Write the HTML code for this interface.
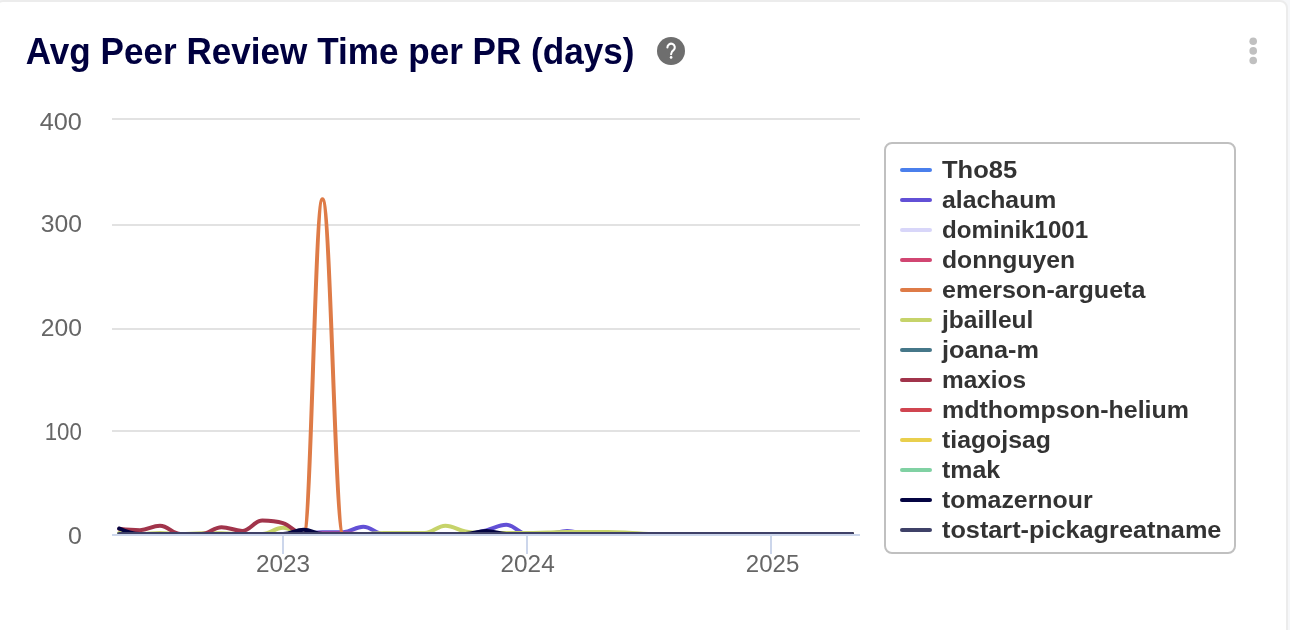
<!DOCTYPE html>
<html><head><meta charset="utf-8">
<style>
html,body{margin:0;padding:0;width:1290px;height:630px;overflow:hidden;background:#f6f7f9;}
body{position:relative;font-family:"Liberation Sans",sans-serif;}
.card{position:absolute;left:-5px;top:0;width:1293px;height:700px;box-sizing:border-box;border:2px solid #ececec;border-radius:8px;background:#fff;}
svg{position:absolute;left:0;top:0;will-change:transform;}
</style></head><body>
<div class="card"></div>
<svg width="1290" height="630" viewBox="0 0 1290 630">
<defs><clipPath id="plot"><rect x="112" y="100" width="748" height="434"/></clipPath></defs>
<text x="25.8" y="64" font-family="Liberation Sans" font-weight="bold" font-size="36" fill="#00003f" textLength="608.7" lengthAdjust="spacingAndGlyphs">Avg Peer Review Time per PR (days)</text>
<circle cx="671" cy="51" r="14" fill="#6e6e6e"/>
<path d="M667.4 47.4 A3.7 3.7 0 1 1 673.5 50.2 Q671.1 51.8 671.1 54.2" fill="none" stroke="#fff" stroke-width="2.1" stroke-linecap="round"/><circle cx="671.1" cy="57.4" r="1.35" fill="#fff"/>
<circle cx="1253.2" cy="41.3" r="3.8" fill="#c0c0c0"/>
<circle cx="1253.2" cy="50.9" r="3.8" fill="#c0c0c0"/>
<circle cx="1253.2" cy="60.5" r="3.8" fill="#c0c0c0"/>
<g><rect x="112" y="118" width="748" height="2" fill="#e2e2e2"/>
<rect x="112" y="224" width="748" height="2" fill="#e2e2e2"/>
<rect x="112" y="328" width="748" height="2" fill="#e2e2e2"/>
<rect x="112" y="430" width="748" height="2" fill="#e2e2e2"/></g>
<rect x="112" y="534" width="748" height="2" fill="#ccd6eb"/>
<rect x="282" y="536" width="2" height="18" fill="#ccd6eb"/>
<rect x="526" y="536" width="2" height="18" fill="#ccd6eb"/>
<rect x="770" y="536" width="2" height="18" fill="#ccd6eb"/>
<g font-family="Liberation Sans" font-size="23.4" fill="#666666">
<text x="39.7" y="130" textLength="42.2" lengthAdjust="spacingAndGlyphs">400</text>
<text x="40.7" y="232" textLength="41.2" lengthAdjust="spacingAndGlyphs">300</text>
<text x="40.7" y="336" textLength="41.2" lengthAdjust="spacingAndGlyphs">200</text>
<text x="44.7" y="440" textLength="37.2" lengthAdjust="spacingAndGlyphs">100</text>
<text x="68.0" y="544" textLength="13.9" lengthAdjust="spacingAndGlyphs">0</text>
<text x="255.9" y="572" textLength="54.2" lengthAdjust="spacingAndGlyphs">2023</text>
<text x="500.5" y="572" textLength="54.2" lengthAdjust="spacingAndGlyphs">2024</text>
<text x="745.8" y="572" textLength="53.5" lengthAdjust="spacingAndGlyphs">2025</text>
</g>
<g clip-path="url(#plot)" fill="none" stroke-width="4" stroke-linecap="round" stroke-linejoin="round">
<path d="M119.22 534.00 C119.22 534.00 131.65 534.00 139.94 534.00 C147.96 534.00 151.98 534.00 160.00 534.00 C168.29 534.00 172.43 534.00 180.72 534.00 C189.01 534.00 193.15 534.00 201.44 534.00 C209.47 534.00 213.48 534.00 221.50 534.00 C229.79 534.00 233.93 534.00 242.22 534.00 C250.24 534.00 254.25 534.00 262.28 534.00 C270.57 534.00 274.71 534.00 283.00 534.00 C291.29 534.00 295.43 534.00 303.72 534.00 C311.21 534.00 314.95 534.00 322.44 534.00 C330.73 534.00 334.88 534.00 343.16 534.00 C351.19 534.00 355.20 534.00 363.22 534.00 C371.51 534.00 375.65 534.00 383.94 534.00 C391.96 534.00 395.98 534.00 404.00 534.00 C412.29 534.00 416.43 534.00 424.72 534.00 C433.01 534.00 437.15 534.00 445.44 534.00 C453.47 534.00 457.48 534.00 465.50 534.00 C473.79 534.00 477.93 534.00 486.22 534.00 C494.24 534.00 498.25 534.00 506.28 534.00 C514.57 534.00 518.71 534.00 527.00 534.00 C535.29 534.00 539.43 534.00 547.72 534.00 C555.48 534.00 559.36 534.00 567.11 534.00 C575.40 534.00 579.54 534.00 587.83 534.00 C595.85 534.00 599.87 534.00 607.89 534.00 C616.18 534.00 620.32 534.00 628.61 534.00 C636.63 534.00 640.64 534.00 648.67 534.00 C656.96 534.00 661.10 534.00 669.39 534.00 C677.68 534.00 681.82 534.00 690.11 534.00 C698.13 534.00 702.15 534.00 710.17 534.00 C718.46 534.00 722.60 534.00 730.89 534.00 C738.91 534.00 742.92 534.00 750.95 534.00 C759.23 534.00 763.38 534.00 771.67 534.00 C779.96 534.00 784.10 534.00 792.39 534.00 C799.88 534.00 803.62 534.00 811.11 534.00 C819.40 534.00 823.54 534.00 831.83 534.00 C839.85 534.00 851.89 534.00 851.89 534.00" stroke="#4a7fec"/>
<path d="M119.22 534.00 C119.22 534.00 131.65 534.00 139.94 534.00 C147.96 534.00 151.98 534.00 160.00 534.00 C168.29 534.00 172.43 534.00 180.72 534.00 C189.01 534.00 193.15 534.00 201.44 534.00 C209.47 534.00 213.48 534.00 221.50 534.00 C229.79 534.00 233.93 534.00 242.22 534.00 C250.24 534.00 254.25 534.00 262.28 534.00 C270.57 534.00 274.71 534.00 283.00 534.00 C291.29 534.00 295.43 534.00 303.72 534.00 C311.21 534.00 314.95 532.13 322.44 532.13 C330.73 532.13 334.88 532.13 343.16 532.13 C351.19 532.13 355.20 526.74 363.22 526.74 C371.51 526.74 375.65 534.00 383.94 534.00 C391.96 534.00 395.98 534.00 404.00 534.00 C412.29 534.00 416.43 534.00 424.72 534.00 C433.01 534.00 437.15 534.00 445.44 534.00 C453.47 534.00 457.48 534.00 465.50 534.00 C473.79 534.00 477.93 532.22 486.22 530.37 C494.24 528.57 498.25 524.87 506.28 524.87 C514.57 524.87 518.71 534.00 527.00 534.00 C535.29 534.00 539.43 534.00 547.72 534.00 C555.48 534.00 559.36 530.89 567.11 530.89 C575.40 530.89 579.54 534.00 587.83 534.00 C595.85 534.00 599.87 534.00 607.89 534.00 C616.18 534.00 620.32 534.00 628.61 534.00 C636.63 534.00 640.64 534.00 648.67 534.00 C656.96 534.00 661.10 534.00 669.39 534.00 C677.68 534.00 681.82 534.00 690.11 534.00 C698.13 534.00 702.15 534.00 710.17 534.00 C718.46 534.00 722.60 534.00 730.89 534.00 C738.91 534.00 742.92 534.00 750.95 534.00 C759.23 534.00 763.38 534.00 771.67 534.00 C779.96 534.00 784.10 534.00 792.39 534.00 C799.88 534.00 803.62 534.00 811.11 534.00 C819.40 534.00 823.54 534.00 831.83 534.00 C839.85 534.00 851.89 534.00 851.89 534.00" stroke="#6250d6"/>
<path d="M119.22 534.00 C119.22 534.00 131.65 534.00 139.94 534.00 C147.96 534.00 151.98 534.00 160.00 534.00 C168.29 534.00 172.43 534.00 180.72 534.00 C189.01 534.00 193.15 534.00 201.44 534.00 C209.47 534.00 213.48 534.00 221.50 534.00 C229.79 534.00 233.93 534.00 242.22 534.00 C250.24 534.00 254.25 534.00 262.28 534.00 C270.57 534.00 274.71 534.00 283.00 534.00 C291.29 534.00 295.43 534.00 303.72 534.00 C311.21 534.00 314.95 534.00 322.44 534.00 C330.73 534.00 334.88 534.00 343.16 534.00 C351.19 534.00 355.20 534.00 363.22 534.00 C371.51 534.00 375.65 534.00 383.94 534.00 C391.96 534.00 395.98 534.00 404.00 534.00 C412.29 534.00 416.43 534.00 424.72 534.00 C433.01 534.00 437.15 534.00 445.44 534.00 C453.47 534.00 457.48 534.00 465.50 534.00 C473.79 534.00 477.93 534.00 486.22 534.00 C494.24 534.00 498.25 534.00 506.28 534.00 C514.57 534.00 518.71 534.00 527.00 534.00 C535.29 534.00 539.43 534.00 547.72 534.00 C555.48 534.00 559.36 534.00 567.11 534.00 C575.40 534.00 579.54 534.00 587.83 534.00 C595.85 534.00 599.87 534.00 607.89 534.00 C616.18 534.00 620.32 534.00 628.61 534.00 C636.63 534.00 640.64 534.00 648.67 534.00 C656.96 534.00 661.10 534.00 669.39 534.00 C677.68 534.00 681.82 534.00 690.11 534.00 C698.13 534.00 702.15 534.00 710.17 534.00 C718.46 534.00 722.60 534.00 730.89 534.00 C738.91 534.00 742.92 534.00 750.95 534.00 C759.23 534.00 763.38 534.00 771.67 534.00 C779.96 534.00 784.10 534.00 792.39 534.00 C799.88 534.00 803.62 534.00 811.11 534.00 C819.40 534.00 823.54 534.00 831.83 534.00 C839.85 534.00 851.89 534.00 851.89 534.00" stroke="#d8d6f9"/>
<path d="M119.22 534.00 C119.22 534.00 131.65 534.00 139.94 534.00 C147.96 534.00 151.98 534.00 160.00 534.00 C168.29 534.00 172.43 534.00 180.72 534.00 C189.01 534.00 193.15 534.00 201.44 534.00 C209.47 534.00 213.48 534.00 221.50 534.00 C229.79 534.00 233.93 534.00 242.22 534.00 C250.24 534.00 254.25 534.00 262.28 534.00 C270.57 534.00 274.71 534.00 283.00 534.00 C291.29 534.00 295.43 534.00 303.72 534.00 C311.21 534.00 314.95 533.38 322.44 533.38 C330.73 533.38 334.88 533.38 343.16 533.38 C351.19 533.38 355.20 534.00 363.22 534.00 C371.51 534.00 375.65 534.00 383.94 534.00 C391.96 534.00 395.98 534.00 404.00 534.00 C412.29 534.00 416.43 534.00 424.72 534.00 C433.01 534.00 437.15 534.00 445.44 534.00 C453.47 534.00 457.48 534.00 465.50 534.00 C473.79 534.00 477.93 534.00 486.22 534.00 C494.24 534.00 498.25 534.00 506.28 534.00 C514.57 534.00 518.71 534.00 527.00 534.00 C535.29 534.00 539.43 534.00 547.72 534.00 C555.48 534.00 559.36 534.00 567.11 534.00 C575.40 534.00 579.54 534.00 587.83 534.00 C595.85 534.00 599.87 534.00 607.89 534.00 C616.18 534.00 620.32 534.00 628.61 534.00 C636.63 534.00 640.64 534.00 648.67 534.00 C656.96 534.00 661.10 534.00 669.39 534.00 C677.68 534.00 681.82 534.00 690.11 534.00 C698.13 534.00 702.15 534.00 710.17 534.00 C718.46 534.00 722.60 534.00 730.89 534.00 C738.91 534.00 742.92 534.00 750.95 534.00 C759.23 534.00 763.38 534.00 771.67 534.00 C779.96 534.00 784.10 534.00 792.39 534.00 C799.88 534.00 803.62 534.00 811.11 534.00 C819.40 534.00 823.54 534.00 831.83 534.00 C839.85 534.00 851.89 534.00 851.89 534.00" stroke="#d14672"/>
<path d="M119.22 534.00 C119.22 534.00 131.65 534.00 139.94 534.00 C147.96 534.00 151.98 534.00 160.00 534.00 C168.29 534.00 172.43 534.00 180.72 534.00 C189.01 534.00 193.15 534.00 201.44 534.00 C209.47 534.00 213.48 534.00 221.50 534.00 C229.79 534.00 233.93 534.00 242.22 534.00 C250.24 534.00 254.25 534.00 262.28 534.00 C270.57 534.00 274.71 534.00 283.00 534.00 C291.29 534.00 295.43 534.00 303.72 534.00 C311.21 534.00 314.95 199.30 322.44 199.30 C330.73 199.30 334.88 534.00 343.16 534.00 C351.19 534.00 355.20 534.00 363.22 534.00 C371.51 534.00 375.65 534.00 383.94 534.00 C391.96 534.00 395.98 534.00 404.00 534.00 C412.29 534.00 416.43 534.00 424.72 534.00 C433.01 534.00 437.15 534.00 445.44 534.00 C453.47 534.00 457.48 534.00 465.50 534.00 C473.79 534.00 477.93 534.00 486.22 534.00 C494.24 534.00 498.25 534.00 506.28 534.00 C514.57 534.00 518.71 534.00 527.00 534.00 C535.29 534.00 539.43 534.00 547.72 534.00 C555.48 534.00 559.36 534.00 567.11 534.00 C575.40 534.00 579.54 534.00 587.83 534.00 C595.85 534.00 599.87 534.00 607.89 534.00 C616.18 534.00 620.32 534.00 628.61 534.00 C636.63 534.00 640.64 534.00 648.67 534.00 C656.96 534.00 661.10 534.00 669.39 534.00 C677.68 534.00 681.82 534.00 690.11 534.00 C698.13 534.00 702.15 534.00 710.17 534.00 C718.46 534.00 722.60 534.00 730.89 534.00 C738.91 534.00 742.92 534.00 750.95 534.00 C759.23 534.00 763.38 534.00 771.67 534.00 C779.96 534.00 784.10 534.00 792.39 534.00 C799.88 534.00 803.62 534.00 811.11 534.00 C819.40 534.00 823.54 534.00 831.83 534.00 C839.85 534.00 851.89 534.00 851.89 534.00" stroke="#de7b47"/>
<path d="M119.22 532.96 C119.22 532.96 131.65 534.00 139.94 534.00 C147.96 534.00 151.98 532.96 160.00 532.96 C168.29 532.96 172.43 534.00 180.72 534.00 C189.01 534.00 193.15 533.27 201.44 533.27 C209.47 533.27 213.48 533.27 221.50 533.27 C229.79 533.27 233.93 534.00 242.22 534.00 C250.24 534.00 254.25 534.00 262.28 534.00 C270.57 534.00 274.71 527.77 283.00 527.77 C291.29 527.77 295.43 534.00 303.72 534.00 C311.21 534.00 314.95 534.00 322.44 534.00 C330.73 534.00 334.88 534.00 343.16 534.00 C351.19 534.00 355.20 534.00 363.22 534.00 C371.51 534.00 375.65 532.96 383.94 532.96 C391.96 532.96 395.98 532.96 404.00 532.96 C412.29 532.96 416.43 532.96 424.72 532.96 C433.01 532.96 437.15 525.70 445.44 525.70 C453.47 525.70 457.48 529.98 465.50 531.41 C473.79 532.88 477.93 532.96 486.22 532.96 C494.24 532.96 498.25 532.96 506.28 532.96 C514.57 532.96 518.71 532.96 527.00 532.96 C535.29 532.96 539.43 532.66 547.72 532.44 C555.48 532.24 559.36 531.92 567.11 531.92 C575.40 531.92 579.54 531.92 587.83 531.92 C595.85 531.92 599.87 531.92 607.89 531.92 C616.18 531.92 620.32 532.23 628.61 532.65 C636.63 533.06 640.64 534.00 648.67 534.00 C656.96 534.00 661.10 534.00 669.39 534.00 C677.68 534.00 681.82 534.00 690.11 534.00 C698.13 534.00 702.15 534.00 710.17 534.00 C718.46 534.00 722.60 534.00 730.89 534.00 C738.91 534.00 742.92 534.00 750.95 534.00 C759.23 534.00 763.38 534.00 771.67 534.00 C779.96 534.00 784.10 534.00 792.39 534.00 C799.88 534.00 803.62 534.00 811.11 534.00 C819.40 534.00 823.54 534.00 831.83 534.00 C839.85 534.00 851.89 534.00 851.89 534.00" stroke="#c6d36a"/>
<path d="M119.22 534.00 C119.22 534.00 131.65 534.00 139.94 534.00 C147.96 534.00 151.98 534.00 160.00 534.00 C168.29 534.00 172.43 534.00 180.72 534.00 C189.01 534.00 193.15 534.00 201.44 534.00 C209.47 534.00 213.48 534.00 221.50 534.00 C229.79 534.00 233.93 534.00 242.22 534.00 C250.24 534.00 254.25 534.00 262.28 534.00 C270.57 534.00 274.71 534.00 283.00 534.00 C291.29 534.00 295.43 534.00 303.72 534.00 C311.21 534.00 314.95 534.00 322.44 534.00 C330.73 534.00 334.88 534.00 343.16 534.00 C351.19 534.00 355.20 534.00 363.22 534.00 C371.51 534.00 375.65 534.00 383.94 534.00 C391.96 534.00 395.98 534.00 404.00 534.00 C412.29 534.00 416.43 534.00 424.72 534.00 C433.01 534.00 437.15 534.00 445.44 534.00 C453.47 534.00 457.48 534.00 465.50 534.00 C473.79 534.00 477.93 534.00 486.22 534.00 C494.24 534.00 498.25 534.00 506.28 534.00 C514.57 534.00 518.71 534.00 527.00 534.00 C535.29 534.00 539.43 534.00 547.72 534.00 C555.48 534.00 559.36 534.00 567.11 534.00 C575.40 534.00 579.54 534.00 587.83 534.00 C595.85 534.00 599.87 534.00 607.89 534.00 C616.18 534.00 620.32 534.00 628.61 534.00 C636.63 534.00 640.64 534.00 648.67 534.00 C656.96 534.00 661.10 534.00 669.39 534.00 C677.68 534.00 681.82 534.00 690.11 534.00 C698.13 534.00 702.15 534.00 710.17 534.00 C718.46 534.00 722.60 534.00 730.89 534.00 C738.91 534.00 742.92 534.00 750.95 534.00 C759.23 534.00 763.38 534.00 771.67 534.00 C779.96 534.00 784.10 534.00 792.39 534.00 C799.88 534.00 803.62 534.00 811.11 534.00 C819.40 534.00 823.54 534.00 831.83 534.00 C839.85 534.00 851.89 534.00 851.89 534.00" stroke="#467789"/>
<path d="M119.22 528.81 C119.22 528.81 131.65 530.26 139.94 530.26 C147.96 530.26 151.98 525.70 160.00 525.70 C168.29 525.70 172.43 534.00 180.72 534.00 C189.01 534.00 193.15 534.00 201.44 534.00 C209.47 534.00 213.48 527.15 221.50 527.15 C229.79 527.15 233.93 530.89 242.22 530.89 C250.24 530.89 254.25 520.51 262.28 520.51 C270.57 520.51 274.71 520.51 283.00 523.11 C291.29 525.70 295.43 534.00 303.72 534.00 C311.21 534.00 314.95 534.00 322.44 534.00 C330.73 534.00 334.88 534.00 343.16 534.00 C351.19 534.00 355.20 534.00 363.22 534.00 C371.51 534.00 375.65 534.00 383.94 534.00 C391.96 534.00 395.98 534.00 404.00 534.00 C412.29 534.00 416.43 534.00 424.72 534.00 C433.01 534.00 437.15 534.00 445.44 534.00 C453.47 534.00 457.48 534.00 465.50 534.00 C473.79 534.00 477.93 534.00 486.22 534.00 C494.24 534.00 498.25 534.00 506.28 534.00 C514.57 534.00 518.71 534.00 527.00 534.00 C535.29 534.00 539.43 534.00 547.72 534.00 C555.48 534.00 559.36 534.00 567.11 534.00 C575.40 534.00 579.54 534.00 587.83 534.00 C595.85 534.00 599.87 534.00 607.89 534.00 C616.18 534.00 620.32 534.00 628.61 534.00 C636.63 534.00 640.64 534.00 648.67 534.00 C656.96 534.00 661.10 534.00 669.39 534.00 C677.68 534.00 681.82 534.00 690.11 534.00 C698.13 534.00 702.15 534.00 710.17 534.00 C718.46 534.00 722.60 534.00 730.89 534.00 C738.91 534.00 742.92 534.00 750.95 534.00 C759.23 534.00 763.38 534.00 771.67 534.00 C779.96 534.00 784.10 534.00 792.39 534.00 C799.88 534.00 803.62 534.00 811.11 534.00 C819.40 534.00 823.54 534.00 831.83 534.00 C839.85 534.00 851.89 534.00 851.89 534.00" stroke="#a1344b"/>
<path d="M119.22 534.00 C119.22 534.00 131.65 534.00 139.94 534.00 C147.96 534.00 151.98 534.00 160.00 534.00 C168.29 534.00 172.43 534.00 180.72 534.00 C189.01 534.00 193.15 534.00 201.44 534.00 C209.47 534.00 213.48 534.00 221.50 534.00 C229.79 534.00 233.93 534.00 242.22 534.00 C250.24 534.00 254.25 534.00 262.28 534.00 C270.57 534.00 274.71 534.00 283.00 534.00 C291.29 534.00 295.43 534.00 303.72 534.00 C311.21 534.00 314.95 534.00 322.44 534.00 C330.73 534.00 334.88 534.00 343.16 534.00 C351.19 534.00 355.20 534.00 363.22 534.00 C371.51 534.00 375.65 534.00 383.94 534.00 C391.96 534.00 395.98 534.00 404.00 534.00 C412.29 534.00 416.43 534.00 424.72 534.00 C433.01 534.00 437.15 534.00 445.44 534.00 C453.47 534.00 457.48 534.00 465.50 534.00 C473.79 534.00 477.93 534.00 486.22 534.00 C494.24 534.00 498.25 534.00 506.28 534.00 C514.57 534.00 518.71 534.00 527.00 534.00 C535.29 534.00 539.43 534.00 547.72 534.00 C555.48 534.00 559.36 534.00 567.11 534.00 C575.40 534.00 579.54 534.00 587.83 534.00 C595.85 534.00 599.87 534.00 607.89 534.00 C616.18 534.00 620.32 534.00 628.61 534.00 C636.63 534.00 640.64 534.00 648.67 534.00 C656.96 534.00 661.10 534.00 669.39 534.00 C677.68 534.00 681.82 534.00 690.11 534.00 C698.13 534.00 702.15 534.00 710.17 534.00 C718.46 534.00 722.60 534.00 730.89 534.00 C738.91 534.00 742.92 534.00 750.95 534.00 C759.23 534.00 763.38 534.00 771.67 534.00 C779.96 534.00 784.10 534.00 792.39 534.00 C799.88 534.00 803.62 534.00 811.11 534.00 C819.40 534.00 823.54 534.00 831.83 534.00 C839.85 534.00 851.89 534.00 851.89 534.00" stroke="#d04550"/>
<path d="M119.22 534.00 C119.22 534.00 131.65 534.00 139.94 534.00 C147.96 534.00 151.98 534.00 160.00 534.00 C168.29 534.00 172.43 534.00 180.72 534.00 C189.01 534.00 193.15 534.00 201.44 534.00 C209.47 534.00 213.48 534.00 221.50 534.00 C229.79 534.00 233.93 534.00 242.22 534.00 C250.24 534.00 254.25 534.00 262.28 534.00 C270.57 534.00 274.71 534.00 283.00 534.00 C291.29 534.00 295.43 534.00 303.72 534.00 C311.21 534.00 314.95 534.00 322.44 534.00 C330.73 534.00 334.88 534.00 343.16 534.00 C351.19 534.00 355.20 534.00 363.22 534.00 C371.51 534.00 375.65 534.00 383.94 534.00 C391.96 534.00 395.98 534.00 404.00 534.00 C412.29 534.00 416.43 534.00 424.72 534.00 C433.01 534.00 437.15 534.00 445.44 534.00 C453.47 534.00 457.48 534.00 465.50 534.00 C473.79 534.00 477.93 534.00 486.22 534.00 C494.24 534.00 498.25 534.00 506.28 534.00 C514.57 534.00 518.71 534.00 527.00 534.00 C535.29 534.00 539.43 534.00 547.72 534.00 C555.48 534.00 559.36 534.00 567.11 534.00 C575.40 534.00 579.54 534.00 587.83 534.00 C595.85 534.00 599.87 534.00 607.89 534.00 C616.18 534.00 620.32 534.00 628.61 534.00 C636.63 534.00 640.64 534.00 648.67 534.00 C656.96 534.00 661.10 534.00 669.39 534.00 C677.68 534.00 681.82 534.00 690.11 534.00 C698.13 534.00 702.15 534.00 710.17 534.00 C718.46 534.00 722.60 534.00 730.89 534.00 C738.91 534.00 742.92 534.00 750.95 534.00 C759.23 534.00 763.38 534.00 771.67 534.00 C779.96 534.00 784.10 534.00 792.39 534.00 C799.88 534.00 803.62 534.00 811.11 534.00 C819.40 534.00 823.54 534.00 831.83 534.00 C839.85 534.00 851.89 534.00 851.89 534.00" stroke="#e9cf4d"/>
<path d="M119.22 534.00 C119.22 534.00 131.65 534.00 139.94 534.00 C147.96 534.00 151.98 534.00 160.00 534.00 C168.29 534.00 172.43 534.00 180.72 534.00 C189.01 534.00 193.15 534.00 201.44 534.00 C209.47 534.00 213.48 534.00 221.50 534.00 C229.79 534.00 233.93 534.00 242.22 534.00 C250.24 534.00 254.25 534.00 262.28 534.00 C270.57 534.00 274.71 534.00 283.00 534.00 C291.29 534.00 295.43 534.00 303.72 534.00 C311.21 534.00 314.95 534.00 322.44 534.00 C330.73 534.00 334.88 534.00 343.16 534.00 C351.19 534.00 355.20 534.00 363.22 534.00 C371.51 534.00 375.65 534.00 383.94 534.00 C391.96 534.00 395.98 534.00 404.00 534.00 C412.29 534.00 416.43 534.00 424.72 534.00 C433.01 534.00 437.15 534.00 445.44 534.00 C453.47 534.00 457.48 534.00 465.50 534.00 C473.79 534.00 477.93 534.00 486.22 534.00 C494.24 534.00 498.25 534.00 506.28 534.00 C514.57 534.00 518.71 534.00 527.00 534.00 C535.29 534.00 539.43 534.00 547.72 534.00 C555.48 534.00 559.36 534.00 567.11 534.00 C575.40 534.00 579.54 534.00 587.83 534.00 C595.85 534.00 599.87 534.00 607.89 534.00 C616.18 534.00 620.32 534.00 628.61 534.00 C636.63 534.00 640.64 534.00 648.67 534.00 C656.96 534.00 661.10 534.00 669.39 534.00 C677.68 534.00 681.82 534.00 690.11 534.00 C698.13 534.00 702.15 534.00 710.17 534.00 C718.46 534.00 722.60 534.00 730.89 534.00 C738.91 534.00 742.92 534.00 750.95 534.00 C759.23 534.00 763.38 534.00 771.67 534.00 C779.96 534.00 784.10 534.00 792.39 534.00 C799.88 534.00 803.62 534.00 811.11 534.00 C819.40 534.00 823.54 534.00 831.83 534.00 C839.85 534.00 851.89 534.00 851.89 534.00" stroke="#80d1a3"/>
<path d="M119.22 528.50 C119.22 528.50 131.65 534.00 139.94 534.00 C147.96 534.00 151.98 534.00 160.00 534.00 C168.29 534.00 172.43 534.00 180.72 534.00 C189.01 534.00 193.15 534.00 201.44 534.00 C209.47 534.00 213.48 534.00 221.50 534.00 C229.79 534.00 233.93 534.00 242.22 534.00 C250.24 534.00 254.25 534.00 262.28 534.00 C270.57 534.00 274.71 534.00 283.00 534.00 C291.29 534.00 295.43 529.85 303.72 529.85 C311.21 529.85 314.95 534.00 322.44 534.00 C330.73 534.00 334.88 534.00 343.16 534.00 C351.19 534.00 355.20 534.00 363.22 534.00 C371.51 534.00 375.65 534.00 383.94 534.00 C391.96 534.00 395.98 534.00 404.00 534.00 C412.29 534.00 416.43 534.00 424.72 534.00 C433.01 534.00 437.15 534.00 445.44 534.00 C453.47 534.00 457.48 534.00 465.50 534.00 C473.79 534.00 477.93 530.89 486.22 530.89 C494.24 530.89 498.25 534.00 506.28 534.00 C514.57 534.00 518.71 534.00 527.00 534.00 C535.29 534.00 539.43 534.00 547.72 534.00 C555.48 534.00 559.36 534.00 567.11 534.00 C575.40 534.00 579.54 534.00 587.83 534.00 C595.85 534.00 599.87 534.00 607.89 534.00 C616.18 534.00 620.32 534.00 628.61 534.00 C636.63 534.00 640.64 534.00 648.67 534.00 C656.96 534.00 661.10 534.00 669.39 534.00 C677.68 534.00 681.82 534.00 690.11 534.00 C698.13 534.00 702.15 534.00 710.17 534.00 C718.46 534.00 722.60 534.00 730.89 534.00 C738.91 534.00 742.92 534.00 750.95 534.00 C759.23 534.00 763.38 534.00 771.67 534.00 C779.96 534.00 784.10 534.00 792.39 534.00 C799.88 534.00 803.62 534.00 811.11 534.00 C819.40 534.00 823.54 534.00 831.83 534.00 C839.85 534.00 851.89 534.00 851.89 534.00" stroke="#040442"/>
<path d="M119.22 534.00 C119.22 534.00 131.65 534.00 139.94 534.00 C147.96 534.00 151.98 534.00 160.00 534.00 C168.29 534.00 172.43 534.00 180.72 534.00 C189.01 534.00 193.15 534.00 201.44 534.00 C209.47 534.00 213.48 534.00 221.50 534.00 C229.79 534.00 233.93 534.00 242.22 534.00 C250.24 534.00 254.25 534.00 262.28 534.00 C270.57 534.00 274.71 534.00 283.00 534.00 C291.29 534.00 295.43 534.00 303.72 534.00 C311.21 534.00 314.95 534.00 322.44 534.00 C330.73 534.00 334.88 534.00 343.16 534.00 C351.19 534.00 355.20 534.00 363.22 534.00 C371.51 534.00 375.65 534.00 383.94 534.00 C391.96 534.00 395.98 534.00 404.00 534.00 C412.29 534.00 416.43 534.00 424.72 534.00 C433.01 534.00 437.15 534.00 445.44 534.00 C453.47 534.00 457.48 534.00 465.50 534.00 C473.79 534.00 477.93 534.00 486.22 534.00 C494.24 534.00 498.25 534.00 506.28 534.00 C514.57 534.00 518.71 534.00 527.00 534.00 C535.29 534.00 539.43 534.00 547.72 534.00 C555.48 534.00 559.36 534.00 567.11 534.00 C575.40 534.00 579.54 534.00 587.83 534.00 C595.85 534.00 599.87 534.00 607.89 534.00 C616.18 534.00 620.32 534.00 628.61 534.00 C636.63 534.00 640.64 534.00 648.67 534.00 C656.96 534.00 661.10 534.00 669.39 534.00 C677.68 534.00 681.82 534.00 690.11 534.00 C698.13 534.00 702.15 534.00 710.17 534.00 C718.46 534.00 722.60 534.00 730.89 534.00 C738.91 534.00 742.92 534.00 750.95 534.00 C759.23 534.00 763.38 534.00 771.67 534.00 C779.96 534.00 784.10 534.00 792.39 534.00 C799.88 534.00 803.62 534.00 811.11 534.00 C819.40 534.00 823.54 534.00 831.83 534.00 C839.85 534.00 851.89 534.00 851.89 534.00" stroke="#3f4168"/>
</g>
<rect x="885" y="143" width="350" height="410" rx="7" fill="none" stroke="#c0c0c0" stroke-width="2"/>
<g font-family="Liberation Sans" font-weight="bold" font-size="24.7" fill="#333333">
<rect x="900" y="168" width="32" height="4" rx="2" fill="#4a7fec"/>
<text x="942.0" y="178" textLength="75.2" lengthAdjust="spacingAndGlyphs">Tho85</text>
<rect x="900" y="198" width="32" height="4" rx="2" fill="#6250d6"/>
<text x="942.0" y="208" textLength="114.3" lengthAdjust="spacingAndGlyphs">alachaum</text>
<rect x="900" y="228" width="32" height="4" rx="2" fill="#d8d6f9"/>
<text x="942.0" y="238" textLength="146.2" lengthAdjust="spacingAndGlyphs">dominik1001</text>
<rect x="900" y="258" width="32" height="4" rx="2" fill="#d14672"/>
<text x="942.0" y="268" textLength="133.1" lengthAdjust="spacingAndGlyphs">donnguyen</text>
<rect x="900" y="288" width="32" height="4" rx="2" fill="#de7b47"/>
<text x="942.0" y="298" textLength="203.4" lengthAdjust="spacingAndGlyphs">emerson-argueta</text>
<rect x="900" y="318" width="32" height="4" rx="2" fill="#c6d36a"/>
<text x="942.0" y="328" textLength="91.4" lengthAdjust="spacingAndGlyphs">jbailleul</text>
<rect x="900" y="348" width="32" height="4" rx="2" fill="#467789"/>
<text x="942.0" y="358" textLength="97.0" lengthAdjust="spacingAndGlyphs">joana-m</text>
<rect x="900" y="378" width="32" height="4" rx="2" fill="#a1344b"/>
<text x="942.0" y="388" textLength="84.1" lengthAdjust="spacingAndGlyphs">maxios</text>
<rect x="900" y="408" width="32" height="4" rx="2" fill="#d04550"/>
<text x="942.0" y="418" textLength="247.0" lengthAdjust="spacingAndGlyphs">mdthompson-helium</text>
<rect x="900" y="438" width="32" height="4" rx="2" fill="#e9cf4d"/>
<text x="942.0" y="448" textLength="108.9" lengthAdjust="spacingAndGlyphs">tiagojsag</text>
<rect x="900" y="468" width="32" height="4" rx="2" fill="#80d1a3"/>
<text x="942.0" y="478" textLength="58.2" lengthAdjust="spacingAndGlyphs">tmak</text>
<rect x="900" y="498" width="32" height="4" rx="2" fill="#040442"/>
<text x="942.0" y="508" textLength="150.6" lengthAdjust="spacingAndGlyphs">tomazernour</text>
<rect x="900" y="528" width="32" height="4" rx="2" fill="#3f4168"/>
<text x="942.0" y="538" textLength="279.4" lengthAdjust="spacingAndGlyphs">tostart-pickagreatname</text>
</g>
</svg>
</body></html>
